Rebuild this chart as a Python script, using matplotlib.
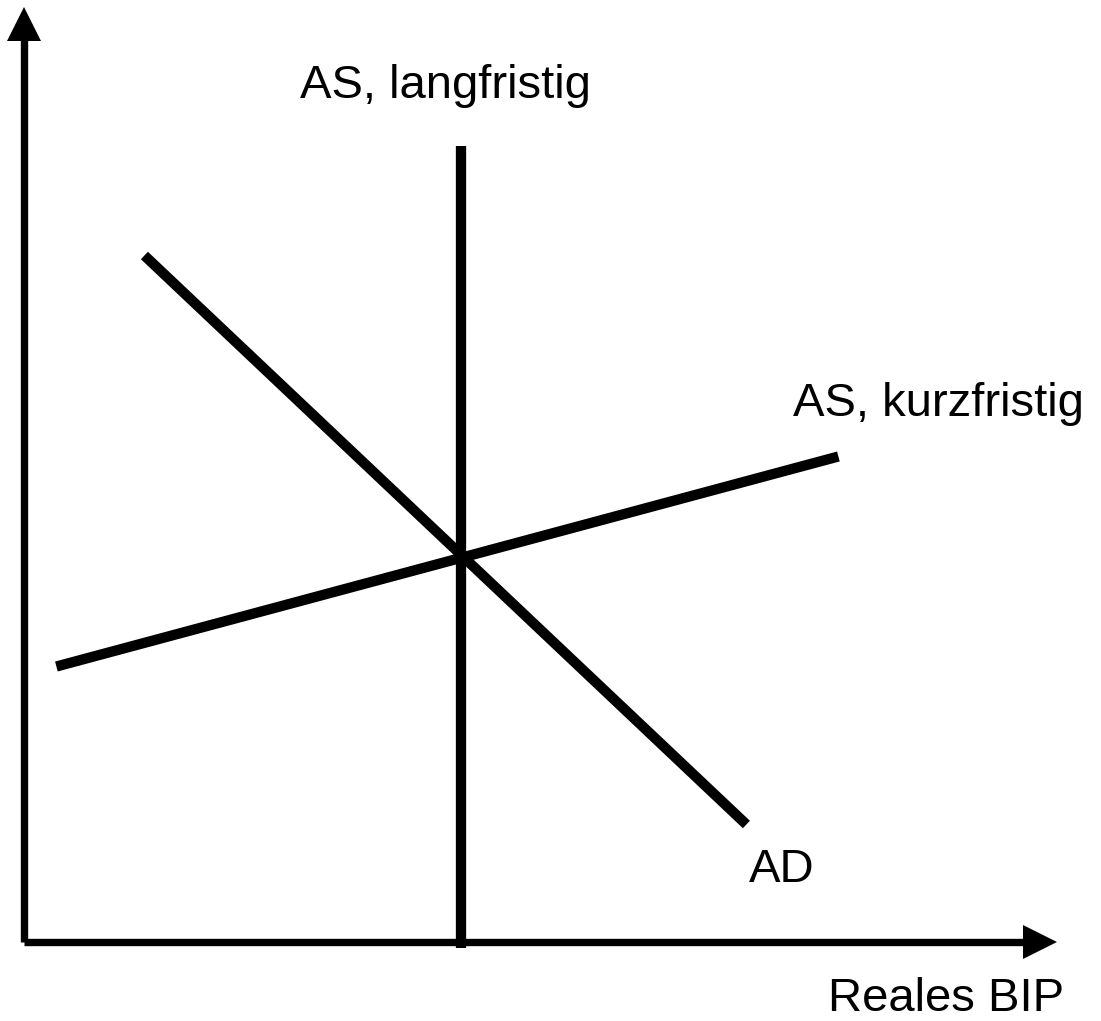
import matplotlib.pyplot as plt

plt.rcParams["font.family"] = ["Liberation Sans", "DejaVu Sans"]

ad_x = [1.20, 7.22]
ad_y = [6.86, 1.17]
sras_x = [0.32, 8.14]
sras_y = [2.75, 4.85]
lras_x = [4.37, 4.37]
lras_y = [-0.06, 7.95]

labels = ["AS, langfristig", "AS, kurzfristig", "AD", "Reales BIP"]

fig = plt.figure(figsize=(11.01, 10.21), dpi=100)
ax = fig.add_axes([0, 0, 1, 1])
ax.set_xlim(-0.244, 10.766)
ax.set_ylim(-0.795, 9.415)
ax.axis("off")

# axes with arrow heads
ax.plot([0, 0], [0, 9.1], color="black", lw=5.3, solid_capstyle="butt")
ax.plot([0, 10.05], [0, 0], color="black", lw=5.3, solid_capstyle="butt")
ax.plot(0, 9.175, marker="^", ms=24, mew=0, color="black")
ax.plot(10.16, 0, marker=">", ms=24, mew=0, color="black")

# curves
ax.plot(lras_x, lras_y, color="black", lw=7.4, solid_capstyle="butt")
ax.plot(ad_x, ad_y, color="black", lw=7.4, solid_capstyle="butt")
ax.plot(sras_x, sras_y, color="black", lw=7.4, solid_capstyle="butt")

ax.text(4.21, 8.43, labels[0], fontsize=34, ha="center", va="baseline")
ax.text(7.69, 5.25, labels[1], fontsize=34, ha="left", va="baseline")
ax.text(7.25, 0.59, labels[2], fontsize=34, ha="left", va="baseline")
ax.text(8.04, -0.69, labels[3], fontsize=34, ha="left", va="baseline")

plt.savefig("out.png", dpi=100)
